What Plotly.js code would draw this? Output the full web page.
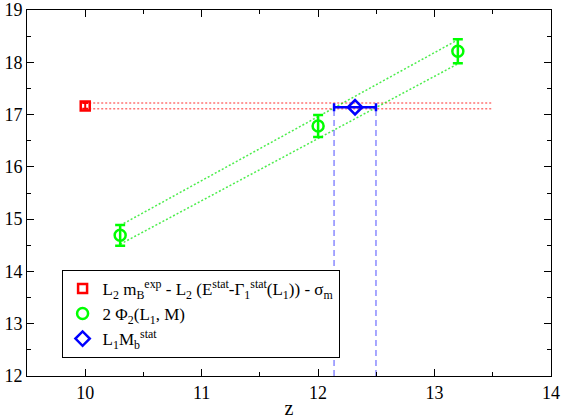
<!DOCTYPE html>
<html>
<head>
<meta charset="utf-8">
<script src="https://cdn.plot.ly/plotly-3.0.1.min.js"></script>
<style>
  html, body { margin: 0; padding: 0; background: #fff; }
  #chart { width: 565px; height: 419px; }
</style>
</head>
<body>
<div id="chart"></div>
<script>
// reference value (red) and its band
const refX = [10.0];
const refY = [17.165];
const refErr = [0.055];
const bandX = [10.0, 13.5];
const bandHi = [17.22, 17.22];
const bandLo = [17.11, 17.11];

// 2 Phi_2 points (green)
const phiX = [10.3, 12.0, 13.2];
const phiY = [14.69, 16.78, 18.21];
const phiErr = [0.2, 0.21, 0.23];
const fitX = [10.3, 13.2];
const fitHi = [14.88, 18.43];
const fitLo = [14.52, 17.97];

// result (blue)
const resX = [12.317];
const resY = [17.14];
const resErr = [0.18];

const serif = 'Liberation Serif';
const dotted = (x, y, color) => ({
    x: x, y: y, mode: 'lines', showlegend: false, hoverinfo: 'skip',
    line: {color: color, width: 1.5, dash: '2px,2px'}
});
const dashed = (x, y) => ({
    x: x, y: y, mode: 'lines', showlegend: false, hoverinfo: 'skip',
    line: {color: 'rgba(60,60,255,0.6)', width: 1.5, dash: '6px,4px'}
});

const lo = resX[0] - resErr[0], hi = resX[0] + resErr[0];
const traces = [
    dotted(bandX, bandHi, 'rgba(255,0,0,0.55)'),
    dotted(bandX, bandLo, 'rgba(255,0,0,0.55)'),
    dotted(fitX, fitHi, 'rgba(0,230,0,0.7)'),
    dotted(fitX, fitLo, 'rgba(0,230,0,0.7)'),
    dashed([lo, lo], [12, resY[0]]),
    dashed([hi, hi], [12, resY[0]]),
    {
        x: refX, y: refY, mode: 'markers',
        name: 'L<sub>2</sub> m<sub>B</sub><sup>exp</sup> - L<sub>2</sub> (E<sup>stat</sup>-Γ<sub>1</sub><sup>stat</sup>(L<sub>1</sub>)) - σ<sub>m</sub>',
        marker: {symbol: 'square-open', size: 9, color: '#ff0000', line: {width: 2.5}},
        error_y: {type: 'data', array: refErr, color: '#ff0000', thickness: 2, width: 3}
    },
    {
        x: phiX, y: phiY, mode: 'markers',
        name: '2 Φ<sub>2</sub>(L<sub>1</sub>, M)',
        marker: {symbol: 'circle-open', size: 11, color: '#00ff00', line: {width: 2.5}},
        error_y: {type: 'data', array: phiErr, color: '#00ff00', thickness: 2.5, width: 5}
    },
    {
        x: resX, y: resY, mode: 'markers',
        name: 'L<sub>1</sub>M<sub>b</sub><sup>stat</sup>',
        marker: {symbol: 'diamond-open', size: 11, color: '#0000ff', line: {width: 2.5}},
        error_x: {type: 'data', array: resErr, color: '#0000ff', thickness: 2.5, width: 4}
    }
];

const axis = {
    showgrid: false, zeroline: false, showline: true, linecolor: '#000', linewidth: 1,
    mirror: 'allticks', ticks: 'inside', ticklen: 7, tickcolor: '#000', dtick: 1,
    minor: {dtick: 0.5, ticks: 'inside', ticklen: 4, tickcolor: '#000'},
    tickfont: {family: serif, size: 18, color: '#000'}
};

Plotly.newPlot('chart', traces, {
    width: 565, height: 419,
    margin: {l: 27, r: 14, t: 10, b: 43},
    font: {family: serif, color: '#000'},
    paper_bgcolor: '#fff', plot_bgcolor: '#fff',
    xaxis: {...axis, range: [9.5, 14], tick0: 10,
            title: {text: 'z', font: {family: serif, size: 20, color: '#000'}, standoff: 0}},
    yaxis: {...axis, range: [12, 19], ticklabelstandoff: 0},
    legend: {
        x: 0.066, y: 0.29, xanchor: 'left', yanchor: 'top',
        bgcolor: '#fff', bordercolor: '#000', borderwidth: 1,
        font: {family: serif, size: 17, color: '#000'}, tracegroupgap: 0
    },
    showlegend: true
}, {staticPlot: true});
</script>
</body>
</html>
